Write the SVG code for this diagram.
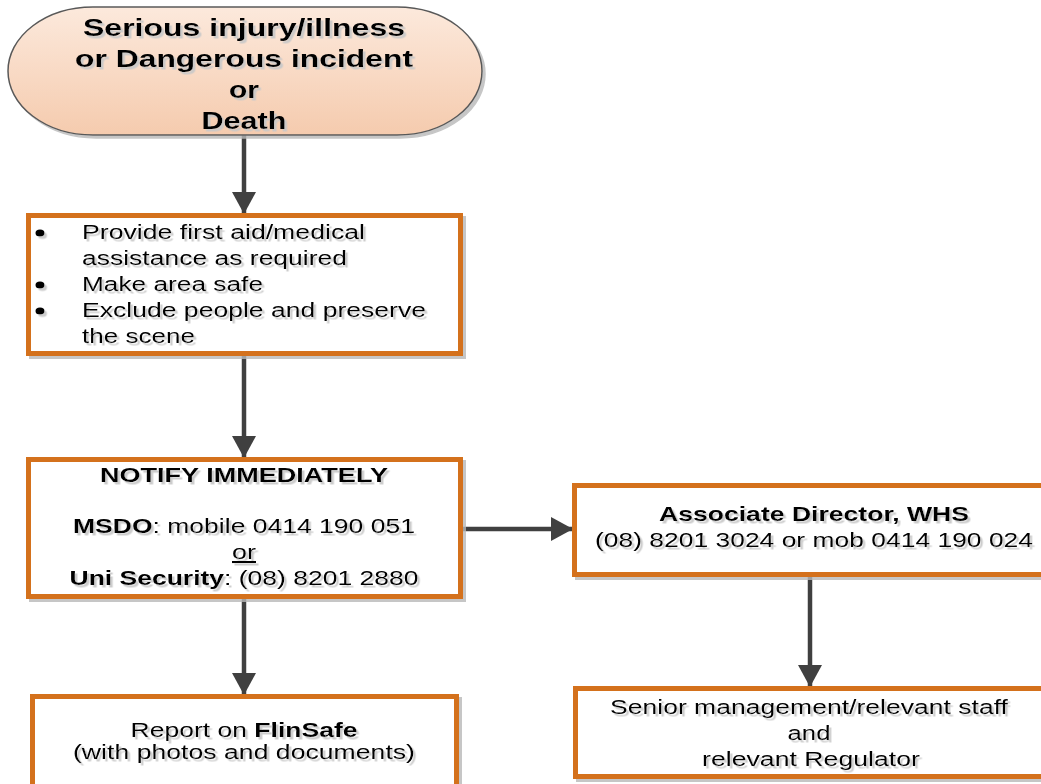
<svg xmlns="http://www.w3.org/2000/svg" width="1041" height="784" viewBox="0 0 1041 784">
<style>
  text { font-family: "Liberation Sans", Arial, sans-serif; fill: #000; }
  .t { font-size: 24.5px; font-weight: bold; text-anchor: middle; }
  .r { font-size: 20.5px; }
  .c { text-anchor: middle; }
  .b { font-weight: bold; }
  .box { fill: #fff; stroke: #d4711f; stroke-width: 5; }
  .conn { stroke: #404040; stroke-width: 4.5; fill: none; }
</style>
<defs>
  <linearGradient id="term" x1="0" y1="0" x2="0" y2="1">
    <stop offset="0" stop-color="#fce9dc"/>
    <stop offset="1" stop-color="#f5cbae"/>
  </linearGradient>
  <filter id="sh" x="-5%" y="-5%" width="115%" height="115%">
    <feDropShadow dx="3" dy="3" stdDeviation="0.6" flood-color="#b8b8b8" flood-opacity="0.8"/>
  </filter>
  <filter id="tsh" x="-5%" y="-20%" width="115%" height="150%">
    <feDropShadow dx="2.5" dy="2.5" stdDeviation="0.5" flood-color="#c8c8c8" flood-opacity="0.9"/>
  </filter>
  <marker id="ah" viewBox="0 0 22 24" refX="22" refY="12" markerUnits="userSpaceOnUse" markerWidth="22" markerHeight="24" orient="auto">
    <path d="M0,0 L22,12 L0,24 Z" fill="#404040"/>
  </marker>
</defs>

<g id="connectors">
  <line class="conn" x1="244" y1="133" x2="244" y2="214" marker-end="url(#ah)"/>
  <line class="conn" x1="244" y1="356" x2="244" y2="458" marker-end="url(#ah)"/>
  <line class="conn" x1="458" y1="529" x2="573" y2="529" marker-end="url(#ah)"/>
  <line class="conn" x1="810" y1="576" x2="810" y2="687" marker-end="url(#ah)"/>
  <line class="conn" x1="244" y1="598" x2="244" y2="695" marker-end="url(#ah)"/>
</g>

<g id="n1">
  <rect x="8" y="7" width="474" height="128" rx="85" ry="64" fill="url(#term)" stroke="#595959" stroke-width="1.5" filter="url(#sh)"/>
  <g filter="url(#tsh)">
    <text class="t" x="244" y="36" textLength="322" lengthAdjust="spacingAndGlyphs">Serious injury/illness</text>
    <text class="t" x="244" y="67" textLength="338" lengthAdjust="spacingAndGlyphs">or Dangerous incident</text>
    <text class="t" x="244" y="98" textLength="30" lengthAdjust="spacingAndGlyphs">or</text>
    <text class="t" x="244" y="129" textLength="85" lengthAdjust="spacingAndGlyphs">Death</text>
  </g>
</g>

<g id="n2">
  <rect class="box" x="28.5" y="215.5" width="432" height="138" filter="url(#sh)"/>
  <g filter="url(#tsh)">
    <ellipse cx="40" cy="233" rx="4.5" ry="3.5"/>
    <ellipse cx="40" cy="285" rx="4.5" ry="3.5"/>
    <ellipse cx="40" cy="311" rx="4.5" ry="3.5"/>
    <text class="r" x="82" y="239" textLength="283" lengthAdjust="spacingAndGlyphs">Provide first aid/medical</text>
    <text class="r" x="82" y="265" textLength="265" lengthAdjust="spacingAndGlyphs">assistance as required</text>
    <text class="r" x="82" y="291" textLength="181" lengthAdjust="spacingAndGlyphs">Make area safe</text>
    <text class="r" x="82" y="317" textLength="344" lengthAdjust="spacingAndGlyphs">Exclude people and preserve</text>
    <text class="r" x="82" y="343" textLength="113" lengthAdjust="spacingAndGlyphs">the scene</text>
  </g>
</g>

<g id="n3">
  <rect class="box" x="28.5" y="459.5" width="432" height="137" filter="url(#sh)"/>
  <g filter="url(#tsh)">
    <text class="r c b" x="244" y="482" textLength="288" lengthAdjust="spacingAndGlyphs">NOTIFY IMMEDIATELY</text>
    <text class="r c" x="244" y="533" textLength="342" lengthAdjust="spacingAndGlyphs"><tspan class="b">MSDO</tspan>: mobile 0414 190 051</text>
    <text class="r c" x="244" y="559" textLength="24" lengthAdjust="spacingAndGlyphs" text-decoration="underline">or</text>
    <text class="r c" x="244" y="585" textLength="349" lengthAdjust="spacingAndGlyphs"><tspan class="b">Uni Security</tspan>: (08) 8201 2880</text>
  </g>
</g>

<g id="n4">
  <rect class="box" x="574.5" y="485.5" width="480" height="89" filter="url(#sh)"/>
  <g filter="url(#tsh)">
    <text class="r c b" x="814" y="521" textLength="310" lengthAdjust="spacingAndGlyphs">Associate Director, WHS</text>
    <text class="r c" x="814" y="547" textLength="438" lengthAdjust="spacingAndGlyphs">(08) 8201 3024 or mob 0414 190 024</text>
  </g>
</g>

<g id="n5">
  <rect class="box" x="575.5" y="688.5" width="480" height="88" filter="url(#sh)"/>
  <g filter="url(#tsh)">
    <text class="r c" x="809" y="714" textLength="398" lengthAdjust="spacingAndGlyphs">Senior management/relevant staff</text>
    <text class="r c" x="809" y="740" textLength="43" lengthAdjust="spacingAndGlyphs">and</text>
    <text class="r c" x="811" y="766" textLength="218" lengthAdjust="spacingAndGlyphs">relevant Regulator</text>
  </g>
</g>

<g id="n6">
  <rect class="box" x="32.5" y="696.5" width="424" height="100" filter="url(#sh)"/>
  <g filter="url(#tsh)">
    <text class="r c" x="244" y="737" textLength="227" lengthAdjust="spacingAndGlyphs">Report on <tspan class="b">FlinSafe</tspan></text>
    <text class="r c" x="244" y="759" textLength="342" lengthAdjust="spacingAndGlyphs">(with photos and documents)</text>
  </g>
</g>
</svg>
